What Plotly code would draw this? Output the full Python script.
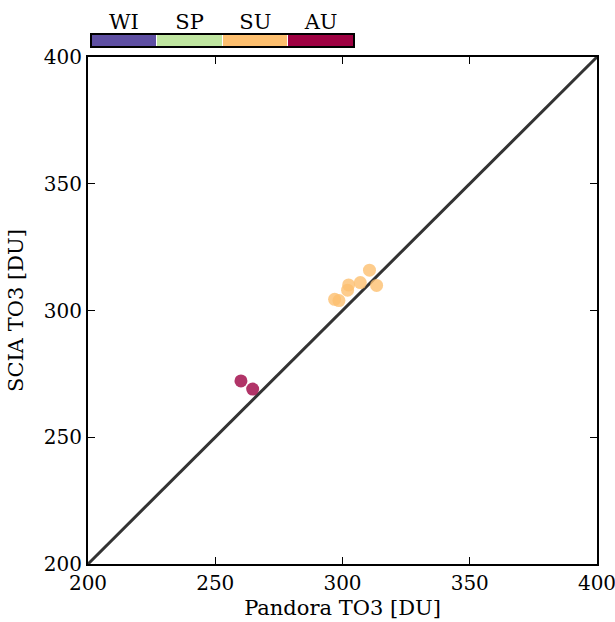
import plotly.graph_objects as go

seasons = ["WI", "SP", "SU", "AU"]
season_colors = ["#5e4fa2", "#bfe5a0", "#fdbf6f", "#9e0142"]

pandora_su = [296.9, 298.6, 302.0, 302.4, 307.0, 310.6, 313.4]
scia_su = [304.4, 303.9, 308.0, 310.1, 311.0, 315.9, 309.9]
pandora_au = [260.1, 264.7]
scia_au = [272.2, 269.0]

ticks = [200, 250, 300, 350, 400]
font = dict(family="DejaVu Serif, serif", size=20, color="black")
tfont = dict(family="DejaVu Serif, serif", size=21, color="black")

fig = go.Figure()
fig.add_trace(go.Scatter(x=[200, 400], y=[200, 400], mode="lines",
                         line=dict(color="#333333", width=3), showlegend=False, hoverinfo="skip"))
fig.add_trace(go.Scatter(x=pandora_su, y=scia_su, mode="markers",
                         marker=dict(color=season_colors[2], size=13, opacity=0.8, line=dict(width=0)),
                         showlegend=False))
fig.add_trace(go.Scatter(x=pandora_au, y=scia_au, mode="markers",
                         marker=dict(color=season_colors[3], size=13, opacity=0.8, line=dict(width=0)),
                         showlegend=False))

# season colour bar
cs = []
n = len(season_colors)
for i, c in enumerate(season_colors):
    cs.append([i / n, c])
    cs.append([(i + 1) / n, c])
fig.add_trace(go.Heatmap(z=[[0, 1, 2, 3]], x=seasons, y=[0], xaxis="x2", yaxis="y2",
                         colorscale=cs, zmin=-0.5, zmax=3.5, showscale=False, hoverinfo="skip",
                         xgap=1))

main_h = 507 / 534
fig.update_layout(
    width=615, height=622,
    margin=dict(l=88, r=18, t=30, b=58, autoexpand=False),
    plot_bgcolor="white", paper_bgcolor="white",
    font=font,
    xaxis=dict(range=[200, 400], tickvals=ticks, ticks="inside", ticklen=7, tickcolor="black",
               showline=True, linecolor="black", linewidth=2, mirror="ticks", showgrid=False,
               zeroline=False, automargin=False, ticklabeloverflow="allow",
               title=dict(text="Pandora TO3 [DU]", font=tfont, standoff=6),
               domain=[0, 1]),
    yaxis=dict(range=[200, 400], tickvals=ticks, ticks="inside", ticklen=7, tickcolor="black",
               showline=True, linecolor="black", linewidth=2, mirror="ticks", showgrid=False,
               zeroline=False, automargin=False, ticklabeloverflow="allow",
               title=dict(text="SCIA TO3 [DU]", font=tfont, standoff=14),
               domain=[0, main_h]),
    xaxis2=dict(domain=[3 / 509, 266 / 509], anchor="y2", side="top", showline=False,
                ticks="", showgrid=False, zeroline=False, tickfont=tfont, fixedrange=True,
                automargin=False, ticklabeloverflow="allow"),
    yaxis2=dict(domain=[(564 - 47) / 534, (564 - 34) / 534], anchor="x2", showticklabels=False,
                showgrid=False, zeroline=False, showline=False, ticks="", fixedrange=True,
                automargin=False),
    shapes=[dict(type="rect", xref="x2 domain", yref="y2 domain", x0=0, x1=1, y0=0, y1=1,
                 line=dict(color="black", width=2))],
)

fig.write_html("out.html")
